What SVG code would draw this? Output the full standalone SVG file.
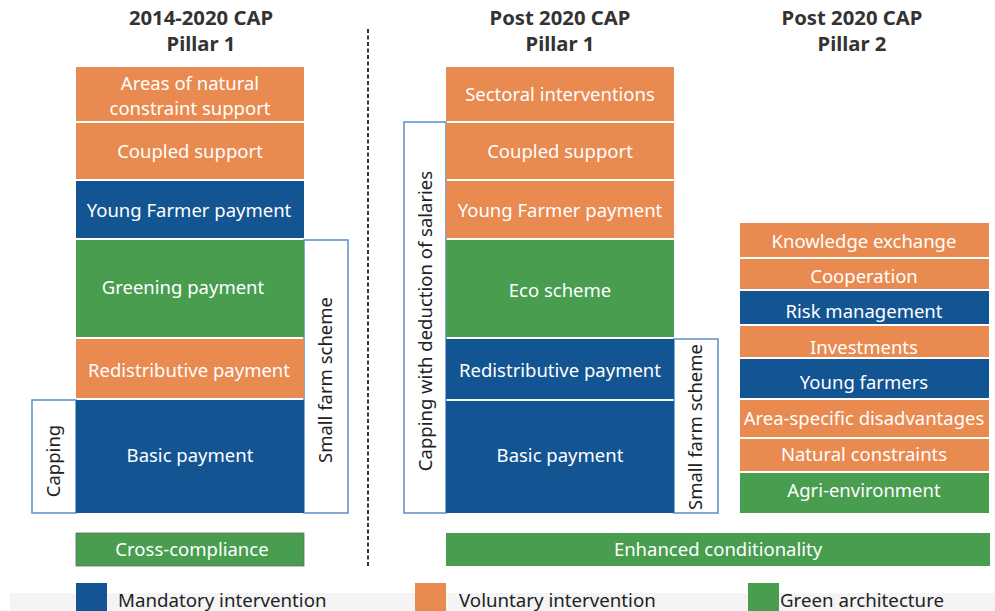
<svg xmlns="http://www.w3.org/2000/svg" width="995" height="611" viewBox="0 0 995 611">
  <style>
    .or { fill: #E98A50; }
    .bl { fill: #135492; }
    .gr { fill: #489D4F; }
    .lbl { font-family: "Noto Sans", "Open Sans", sans-serif; font-size: 18.5px; fill: #ffffff; text-anchor: middle; }
    .dark { font-family: "Noto Sans", "Open Sans", sans-serif; font-size: 18.5px; fill: #222222; text-anchor: middle; }
    .head { font-family: "Noto Sans", "Open Sans", sans-serif; font-size: 20.3px; font-weight: bold; fill: #333333; text-anchor: middle; }
    .leg { font-family: "Noto Sans", "Open Sans", sans-serif; font-size: 18.7px; fill: #222222; }
    .frame { fill: #ffffff; stroke: #5B8EC6; stroke-width: 1.5; }
  </style>
  <rect width="995" height="611" fill="#ffffff"/>
  <rect x="10" y="593" width="985" height="18" fill="#f4f4f4"/>

  <!-- column headings -->
  <g id="head-2014">
    <text class="head" x="201" y="25">2014-2020 CAP</text>
    <text class="head" x="201" y="51">Pillar 1</text>
  </g>
  <g id="head-post-p1">
    <text class="head" x="560" y="25">Post 2020 CAP</text>
    <text class="head" x="560" y="51">Pillar 1</text>
  </g>
  <g id="head-post-p2">
    <text class="head" x="852" y="25">Post 2020 CAP</text>
    <text class="head" x="852" y="51">Pillar 2</text>
  </g>

  <!-- separator -->
  <g id="connectors">
    <line x1="368" y1="29" x2="368" y2="568" stroke="#333333" stroke-width="2" stroke-dasharray="4 2.5"/>
  </g>

  <!-- 2014-2020 Pillar 1 -->
  <g id="old-small-farm">
    <rect class="frame" x="304" y="240" width="44" height="273"/>
    <text class="dark" transform="translate(332,380) rotate(-90)">Small farm scheme</text>
  </g>
  <g id="old-capping">
    <rect class="frame" x="32" y="400" width="44" height="113"/>
    <text class="dark" transform="translate(60,461) rotate(-90)">Capping</text>
  </g>
  <g id="old-anc">
    <rect class="or" x="76" y="67" width="228" height="54"/>
    <text class="lbl" x="190" y="90">Areas of natural</text>
    <text class="lbl" x="190" y="115">constraint support</text>
  </g>
  <g id="old-coupled">
    <rect class="or" x="76" y="123" width="228" height="56"/>
    <text class="lbl" x="190" y="158">Coupled support</text>
  </g>
  <g id="old-young">
    <rect class="bl" x="76" y="181" width="228" height="57"/>
    <text class="lbl" x="189" y="217">Young Farmer payment</text>
  </g>
  <g id="old-greening">
    <rect class="gr" x="76" y="240" width="228" height="97"/>
    <text class="lbl" x="183" y="294">Greening payment</text>
  </g>
  <g id="old-redistributive">
    <rect class="or" x="76" y="339" width="228" height="59"/>
    <text class="lbl" x="189" y="377">Redistributive payment</text>
  </g>
  <g id="old-basic">
    <rect class="bl" x="76" y="400" width="228" height="113"/>
    <text class="lbl" x="190" y="462">Basic payment</text>
  </g>
  <g id="old-cross">
    <rect class="gr" x="76" y="533" width="228" height="33" stroke="#6a6a6a" stroke-width="0.8"/>
    <text class="lbl" x="192" y="556">Cross-compliance</text>
  </g>

  <!-- Post 2020 Pillar 1 -->
  <g id="new-capping">
    <rect class="frame" x="404" y="122" width="42" height="391"/>
    <text class="dark" transform="translate(432,321) rotate(-90)">Capping with deduction of salaries</text>
  </g>
  <g id="new-small-farm">
    <rect class="frame" x="674" y="339" width="44" height="174"/>
    <text class="dark" transform="translate(702,427) rotate(-90)">Small farm scheme</text>
  </g>
  <g id="new-sectoral">
    <rect class="or" x="446" y="67" width="228" height="54"/>
    <text class="lbl" x="560" y="101">Sectoral interventions</text>
  </g>
  <g id="new-coupled">
    <rect class="or" x="446" y="123" width="228" height="56"/>
    <text class="lbl" x="560" y="158">Coupled support</text>
  </g>
  <g id="new-young">
    <rect class="or" x="446" y="181" width="228" height="57"/>
    <text class="lbl" x="560" y="217">Young Farmer payment</text>
  </g>
  <g id="new-eco">
    <rect class="gr" x="446" y="240" width="228" height="97"/>
    <text class="lbl" x="560" y="297">Eco scheme</text>
  </g>
  <g id="new-redistributive">
    <rect class="bl" x="446" y="339" width="228" height="60"/>
    <text class="lbl" x="560" y="377">Redistributive payment</text>
  </g>
  <g id="new-basic">
    <rect class="bl" x="446" y="401" width="228" height="112"/>
    <text class="lbl" x="560" y="462">Basic payment</text>
  </g>
  <g id="new-conditionality">
    <rect class="gr" x="446" y="533" width="544" height="33"/>
    <text class="lbl" x="718" y="556">Enhanced conditionality</text>
  </g>

  <!-- Post 2020 Pillar 2 -->
  <g id="p2-knowledge">
    <rect class="or" x="740" y="223" width="249" height="34"/>
    <text class="lbl" x="864" y="248">Knowledge exchange</text>
  </g>
  <g id="p2-cooperation">
    <rect class="or" x="740" y="259" width="249" height="30"/>
    <text class="lbl" x="864" y="283">Cooperation</text>
  </g>
  <g id="p2-risk">
    <rect class="bl" x="740" y="291" width="249" height="33"/>
    <text class="lbl" x="864" y="318">Risk management</text>
  </g>
  <g id="p2-investments">
    <rect class="or" x="740" y="326" width="249" height="31"/>
    <text class="lbl" x="864" y="354">Investments</text>
  </g>
  <g id="p2-young">
    <rect class="bl" x="740" y="359" width="249" height="39"/>
    <text class="lbl" x="864" y="389">Young farmers</text>
  </g>
  <g id="p2-area">
    <rect class="or" x="740" y="400" width="249" height="37"/>
    <text class="lbl" x="864" y="425">Area-specific disadvantages</text>
  </g>
  <g id="p2-natural">
    <rect class="or" x="740" y="439" width="249" height="32"/>
    <text class="lbl" x="864" y="461">Natural constraints</text>
  </g>
  <g id="p2-agri">
    <rect class="gr" x="740" y="473" width="249" height="40"/>
    <text class="lbl" x="864" y="497">Agri-environment</text>
  </g>

  <!-- legend -->
  <g id="legend">
    <rect class="bl" x="76" y="583" width="31" height="28"/>
    <text class="leg" x="118" y="607">Mandatory intervention</text>
    <rect class="or" x="415" y="583" width="31" height="28"/>
    <text class="leg" x="459" y="607">Voluntary intervention</text>
    <rect class="gr" x="748" y="583" width="31" height="28"/>
    <text class="leg" x="780" y="607">Green architecture</text>
  </g>
</svg>
